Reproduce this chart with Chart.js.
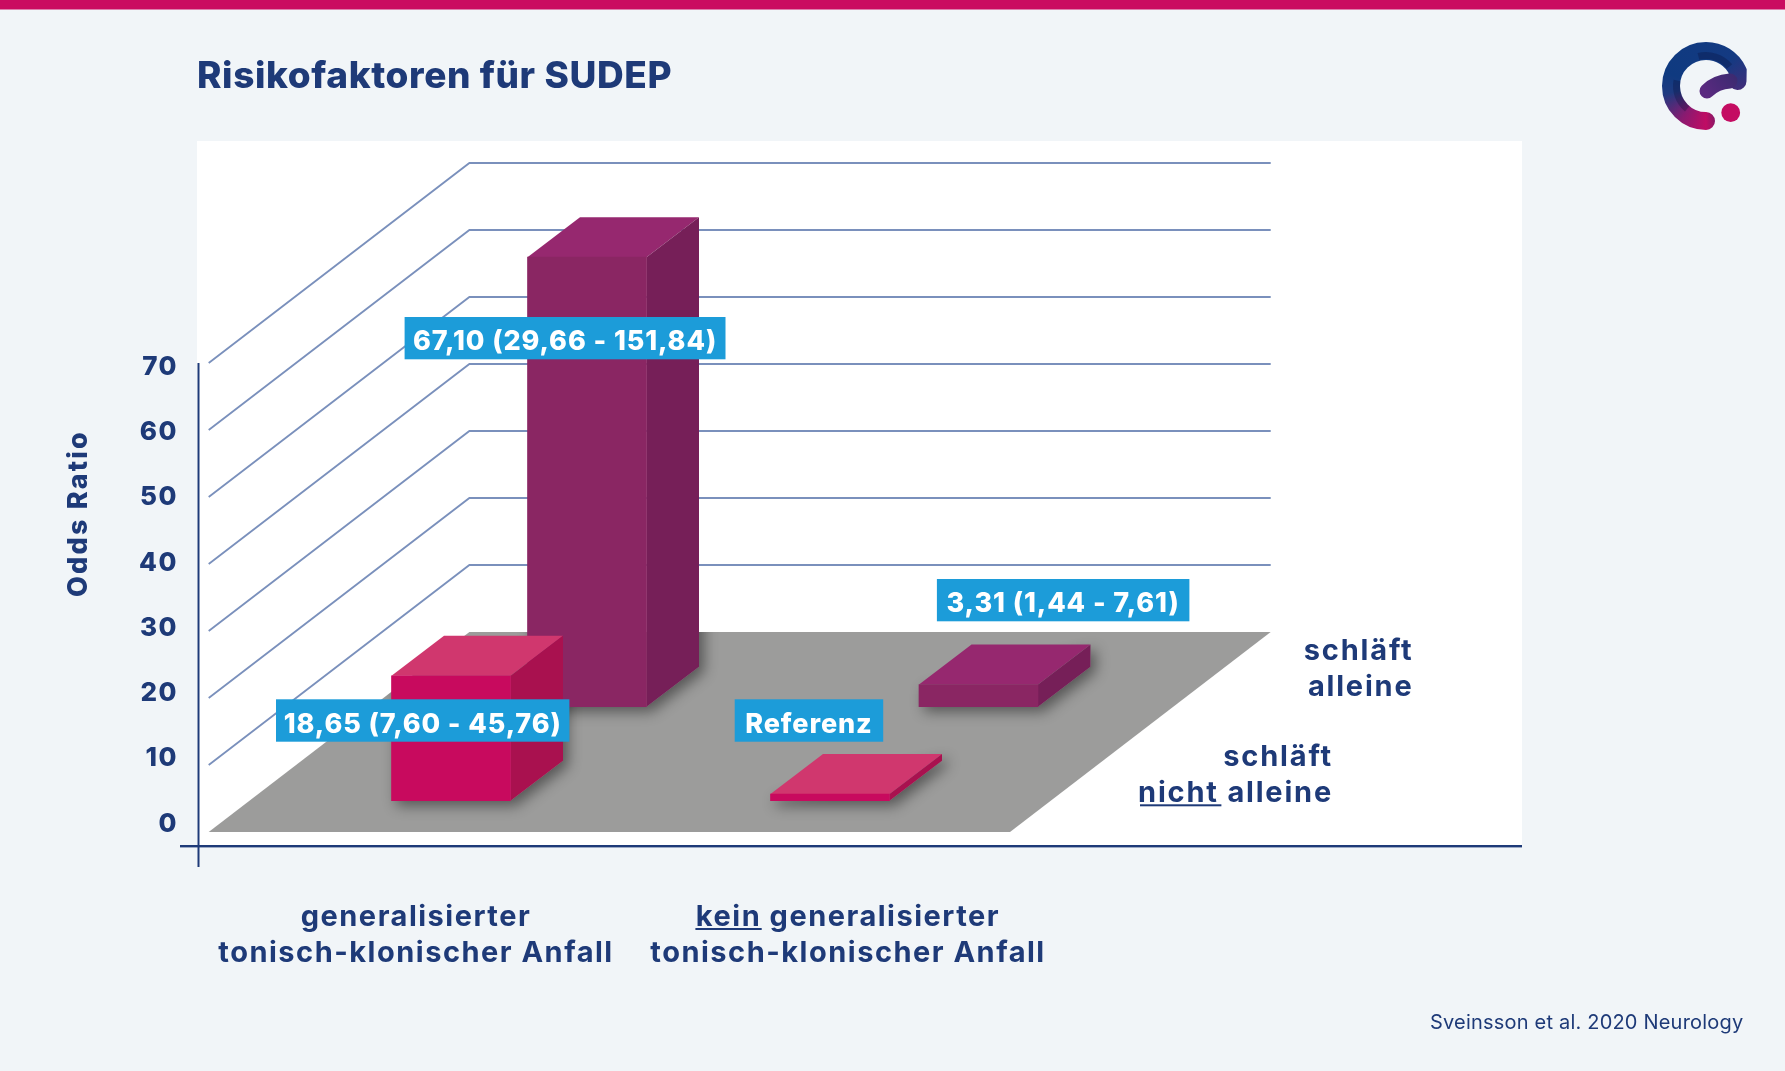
<!DOCTYPE html>
<html lang="de">
<head>
<meta charset="utf-8">
<title>Risikofaktoren für SUDEP</title>
<script src="https://cdn.jsdelivr.net/npm/chart.js@4"></script>
<style>html,body{margin:0;padding:0;background:#f1f5f8}canvas{display:block}</style>
</head>
<body>
<canvas id="c" width="1785" height="1071"></canvas>
<script>
// ---- data ----
const groupLabels = [["generalisierter", "tonisch-klonischer Anfall"], ["kein generalisierter", "tonisch-klonischer Anfall"]];
const schlaeftNichtAllein = [18.65, 1.00];
const schlaeftAllein = [67.10, 3.31];
const yTicks = [0, 10, 20, 30, 40, 50, 60, 70];
const gridValues = [10, 20, 30, 40, 50, 60, 70];
const valueLabels = ["18,65 (7,60 - 45,76)", "Referenz", "67,10 (29,66 - 151,84)", "3,31 (1,44 - 7,61)"];

// ---- layout and style ----
const AREA = {left: 198, right: 1522, top: 141, bottom: 846};
const NAVY = "#1e3a78", FONT = "Inter, Roboto, sans-serif";
const Y0 = 832, UNIT = 6.7;            // front plane of the chart: pixel of 0 and pixels per unit
const YL0 = 823.7, YLUNIT = 6.524;     // tick labels sit on a slightly tighter ladder in the source
const WALL = {left: 208.7, right: 1010, dx: 260.7, dy: -200};
const DEPTH = {dx: 52.5, dy: -40};
const ROW_LIFT = {front: 4.67, back: 18.7};
const COL_FRONT = [451, 830], COL_BACK = [587, 978.5], COL_LABEL = [416, 848];
const BAR_W = 119;
const C_FRONT = {face: "#c80a5e", top: "#d0376e", side: "#a9114f"};
const C_BACK = {face: "#8a2663", top: "#96286f", side: "#761f58"};
const LABEL_BOXES = [[276, 699.3, 293.4, 42.4], [734.7, 699.3, 148.5, 42.4], [404.6, 317, 320.9, 42.3], [936.9, 579, 252.5, 42.3]];

function groupRange(p) {
  const u = p[1] - p[0], width = AREA.right - AREA.left;
  const min = (AREA.left - p[0]) / u;
  return {min, max: min + width / u};
}
function valueRange(zero, unit) {
  return {min: (zero - AREA.bottom) / unit, max: (zero - AREA.top) / unit};
}
function text(ctx, s, x, y, font, color, align, spacing) {
  ctx.save();
  ctx.font = font; ctx.fillStyle = color; ctx.textAlign = align || "left"; ctx.textBaseline = "middle";
  ctx.letterSpacing = (spacing || 0) + "px";
  ctx.fillText(s, x, y);
  ctx.restore();
}
function poly(ctx, pts, fill) {
  ctx.beginPath();
  pts.forEach((p, i) => i ? ctx.lineTo(p[0], p[1]) : ctx.moveTo(p[0], p[1]));
  ctx.closePath();
  ctx.fillStyle = fill; ctx.fill();
}
function barGeom(el) {
  const p = el.getProps(["x", "y", "base", "width"], true);
  const l = p.x - p.width / 2, r = p.x + p.width / 2;
  return {l, r, t: p.y, b: p.base};
}
function drawLogo(ctx) {
  ctx.save();
  const cx = 1706, cy = 86, R = 35;
  const g = ctx.createConicGradient(Math.PI / 2, cx, cy);
  g.addColorStop(0, "#c00c64"); g.addColorStop(0.1, "#8a1a70"); g.addColorStop(0.22, "#1e3a80");
  g.addColorStop(0.3, "#0f3a80"); g.addColorStop(0.62, "#143a82"); g.addColorStop(0.8, "#4c2a78");
  g.addColorStop(0.9, "#3a2a6c"); g.addColorStop(1, "#c00c64");
  ctx.lineCap = "round"; ctx.strokeStyle = g; ctx.lineWidth = 18;
  ctx.beginPath();
  ctx.arc(cx, cy, R, Math.PI * 0.5, Math.PI * 1.86);
  ctx.lineTo(1737.5, 81);
  ctx.stroke();
  // dark fold along the inside of the band
  ctx.lineCap = "butt"; ctx.strokeStyle = "rgba(8,12,50,0.28)"; ctx.lineWidth = 7;
  ctx.beginPath(); ctx.arc(cx, cy, 29.5, Math.PI * 0.72, Math.PI * 1.06); ctx.stroke();
  ctx.beginPath(); ctx.arc(cx, cy, 30.5, Math.PI * 1.42, Math.PI * 1.78); ctx.stroke();
  const t = ctx.createLinearGradient(1735, 74, 1707, 95);
  t.addColorStop(0, "#3b2a70"); t.addColorStop(1, "#5a2a80");
  ctx.lineCap = "round"; ctx.strokeStyle = t; ctx.lineWidth = 15;
  ctx.beginPath();
  ctx.moveTo(1730, 81);
  ctx.quadraticCurveTo(1716, 82, 1707, 91);
  ctx.stroke();
  ctx.beginPath(); ctx.arc(1730.7, 112.7, 9.4, 0, Math.PI * 2);
  ctx.fillStyle = "#c40c62"; ctx.fill();
  ctx.restore();
}

const scenery = {
  id: "scenery",
  beforeDraw(chart) {
    const ctx = chart.ctx, a = chart.chartArea;
    ctx.save();
    ctx.fillStyle = "#f1f5f8"; ctx.fillRect(0, 0, chart.width, chart.height);
    ctx.fillStyle = "#ca0b60"; ctx.fillRect(0, 0, chart.width, 9.5);
    ctx.fillStyle = "#ffffff"; ctx.fillRect(a.left - 1, a.top, a.right - a.left + 1, a.bottom - a.top);
    text(ctx, "Risikofaktoren für SUDEP", 197, 77, "800 37px " + FONT, NAVY, "left", 0.6);
    text(ctx, "Sveinsson et al. 2020 Neurology", 1430, 1023, "400 20px " + FONT, NAVY, "left", 0.2);
    drawLogo(ctx);
    ctx.restore();
    ctx.letterSpacing = "1.5px";      // for the axis tick labels drawn next
  },
  beforeDatasetsDraw(chart) {
    const ctx = chart.ctx, y = chart.scales.y;
    ctx.letterSpacing = "0px";
    ctx.save();
    // walls: one line per value, running back along the side wall and across the back wall
    ctx.strokeStyle = "#7a90bc"; ctx.lineWidth = 1.8; ctx.lineJoin = "miter";
    gridValues.forEach(v => {
      const py = y.getPixelForValue(v);
      ctx.beginPath();
      ctx.moveTo(WALL.left, py);
      ctx.lineTo(WALL.left + WALL.dx, py + WALL.dy);
      ctx.lineTo(WALL.right + WALL.dx, py + WALL.dy);
      ctx.stroke();
    });
    // floor
    const y0 = y.getPixelForValue(0);
    const floor = [[WALL.left, y0], [WALL.right, y0], [WALL.right + WALL.dx, y0 + WALL.dy], [WALL.left + WALL.dx, y0 + WALL.dy]];
    poly(ctx, floor, "#9c9c9b");
    // soft shadows, on the floor only
    ctx.beginPath();
    floor.forEach((p, i) => i ? ctx.lineTo(p[0], p[1]) : ctx.moveTo(p[0], p[1]));
    ctx.closePath(); ctx.clip();
    ctx.shadowColor = "rgba(0,0,0,0.45)"; ctx.shadowBlur = 14; ctx.shadowOffsetX = 5; ctx.shadowOffsetY = 5;
    chart.getSortedVisibleDatasetMetas().forEach(meta => meta.data.forEach(el => {
      const b = barGeom(el);
      poly(ctx, [[b.l, b.b], [b.r, b.b], [b.r + DEPTH.dx, b.b + DEPTH.dy], [b.r + DEPTH.dx, b.t + DEPTH.dy], [b.l, b.t]], "#9c9c9b");
    }));
    ctx.restore();
  },
  beforeDatasetDraw(chart, args) {
    // top and side of each bar, just before its front face
    const ctx = chart.ctx, c = chart.data.datasets[args.index].extrude;
    args.meta.data.forEach(el => {
      const b = barGeom(el);
      poly(ctx, [[b.l, b.t], [b.r, b.t], [b.r + DEPTH.dx, b.t + DEPTH.dy], [b.l + DEPTH.dx, b.t + DEPTH.dy]], c.top);
      poly(ctx, [[b.r, b.t], [b.r + DEPTH.dx, b.t + DEPTH.dy], [b.r + DEPTH.dx, b.b + DEPTH.dy], [b.r, b.b]], c.side);
    });
  },
  afterDatasetsDraw(chart) {
    const ctx = chart.ctx;
    valueLabels.forEach((s, i) => {
      const [x, y, w, h] = LABEL_BOXES[i];
      ctx.fillStyle = "#1c9cd9"; ctx.fillRect(x, y, w, h);
      text(ctx, s, x + w / 2, y + h / 2 + 4, "800 27px " + FONT, "#ffffff", "center", 0.9);
    });
  },
  afterDraw(chart) {
    const ctx = chart.ctx, a = chart.chartArea, yl = chart.scales.y;
    ctx.save();
    ctx.fillStyle = NAVY;
    ctx.fillRect(180, a.bottom - 1, a.right - 180, 2.4);
    const top = yl.getPixelForValue(70);
    ctx.fillRect(a.left - 0.5, top, 2, 867 - top);
    const bold = "700 29px " + FONT;
    ctx.translate(78.5, 513.5); ctx.rotate(-Math.PI / 2);
    text(ctx, "Odds Ratio", 0, 0, "800 27px " + FONT, NAVY, "center", 2.2);
    ctx.setTransform(1, 0, 0, 1, 0, 0);
    text(ctx, "schläft", 1413.5, 651, bold, NAVY, "right", 1.8);
    text(ctx, "alleine", 1413.5, 687, bold, NAVY, "right", 1.8);
    text(ctx, "schläft", 1333, 757, bold, NAVY, "right", 1.8);
    text(ctx, "nicht alleine", 1333, 793, bold, NAVY, "right", 1.8);
    ctx.fillRect(1140, 804.3, 81.4, 2);
    ctx.fillRect(695.4, 928, 66.3, 2);
    ctx.restore();
  }
};

const rangeY = valueRange(Y0, UNIT), rangeTicks = valueRange(YL0, YLUNIT);
const rangeFront = groupRange(COL_FRONT), rangeBack = groupRange(COL_BACK), rangeLabel = groupRange(COL_LABEL);
const hiddenX = r => ({type: "linear", axis: "x", position: "bottom", display: false, offset: false, min: r.min, max: r.max});

new Chart(document.getElementById("c"), {
  type: "bar",
  plugins: [scenery],
  data: {
    datasets: [
      {label: "schläft nicht alleine", xAxisID: "xFront", yAxisID: "y", backgroundColor: C_FRONT.face, extrude: C_FRONT,
       data: schlaeftNichtAllein.map((v, i) => ({x: i, y: [ROW_LIFT.front, ROW_LIFT.front + v]}))},
      {label: "schläft alleine", xAxisID: "xBack", yAxisID: "y", backgroundColor: C_BACK.face, extrude: C_BACK,
       data: schlaeftAllein.map((v, i) => ({x: i, y: [ROW_LIFT.back, ROW_LIFT.back + v]}))}
    ]
  },
  options: {
    responsive: false, animation: false, devicePixelRatio: 1,
    layout: {padding: {top: AREA.top, right: 1785 - AREA.right, left: 0, bottom: 0}},
    plugins: {legend: {display: false}, tooltip: {enabled: false}, title: {display: false}},
    datasets: {bar: {barThickness: BAR_W, grouped: false, borderWidth: 0}},
    scales: {
      xFront: hiddenX(rangeFront),
      xBack: hiddenX(rangeBack),
      xGroups: {
        type: "linear", axis: "x", position: "bottom", offset: false, min: rangeLabel.min, max: rangeLabel.max,
        grid: {display: false}, border: {display: false},
        afterBuildTicks: s => { s.ticks = groupLabels.map((_, i) => ({value: i})); },
        afterFit: s => { s.height = 1071 - AREA.bottom; },
        ticks: {
          autoSkip: false, maxRotation: 0, padding: 45, color: NAVY, font: {family: FONT, weight: "700", size: 29, lineHeight: 1.24},
          callback: v => groupLabels[v]
        }
      },
      y: {type: "linear", position: "left", display: false, min: rangeY.min, max: rangeY.max},
      yTicks: {
        type: "linear", position: "left", min: rangeTicks.min, max: rangeTicks.max,
        grid: {display: false}, border: {display: false},
        afterBuildTicks: s => { s.ticks = yTicks.map(v => ({value: v})); },
        afterFit: s => { s.width = AREA.left; },
        ticks: {autoSkip: false, padding: 12, color: NAVY, font: {family: FONT, weight: "800", size: 26}}
      }
    }
  }
});
</script>
</body>
</html>
